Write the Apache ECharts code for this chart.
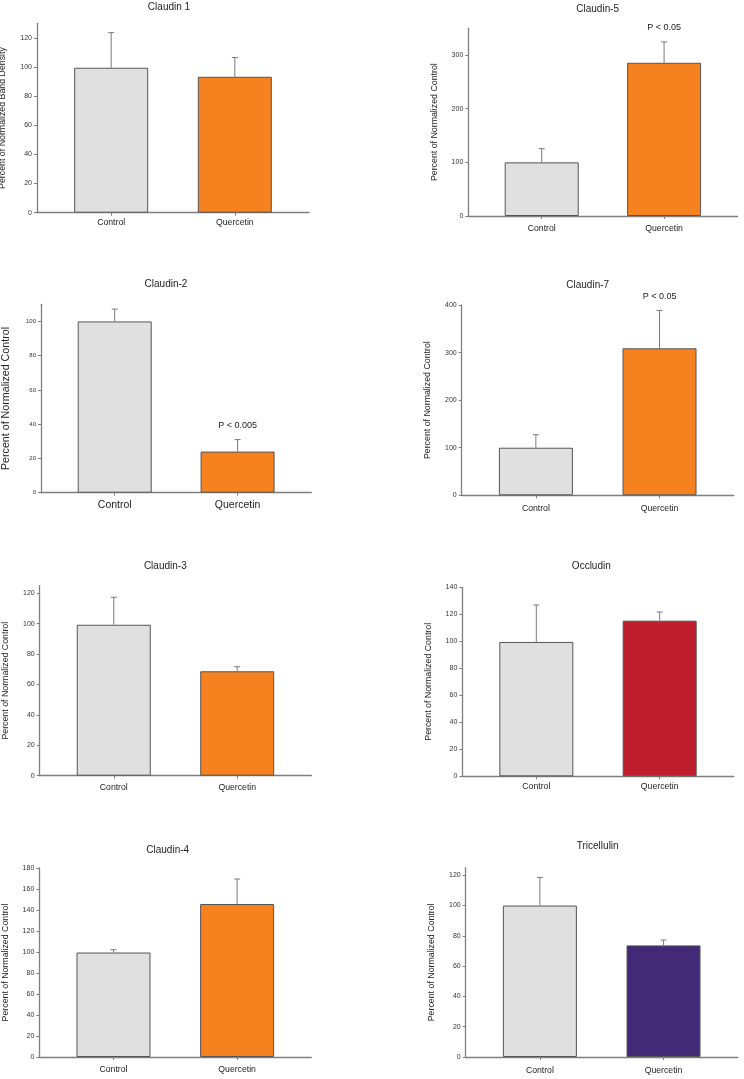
<!DOCTYPE html>
<html>
<head>
<meta charset="utf-8">
<script src="https://cdn.jsdelivr.net/npm/echarts@6/dist/echarts.min.js"></script>
<style>html,body{margin:0;padding:0;background:#fff;}#c{width:744px;height:1079px;}</style>
</head>
<body>
<div id="c"></div>
<script>
// ---- data ----
const categories = ['Control', 'Quercetin'];
const titles = ['Claudin 1', 'Claudin-5', 'Claudin-2', 'Claudin-7', 'Claudin-3', 'Occludin', 'Claudin-4', 'Tricellulin'];
const yNames = ['Percent of Normalized Band Density', 'Percent of Normalized Control', 'Percent of Normalized Control',
  'Percent of Normalized Control', 'Percent of Normalized Control', 'Percent of Normalized Control',
  'Percent of Normalized Control', 'Percent of Normalized Control'];
const controlMeans   = [99.5, 100, 100, 100, 99.3, 99.5, 99.5, 100];
const controlErrors  = [24.1, 25.6, 7.2, 27.4, 18.1, 27.4, 2.7, 18.5];
const quercetinMeans = [93.3, 285.7, 24, 309, 68.7, 115.3, 145.7, 73.7];
const quercetinErrors= [13.2, 39, 7, 79.6, 3, 6.4, 23.8, 3.5];
const pLabels = ['', 'P < 0.05', 'P < 0.005', 'P < 0.05', '', '', '', ''];
const yMax = [130, 350, 110, 400, 125, 140, 180, 125];
const yTicks = [
  [0, 20, 40, 60, 80, 100, 120],
  [0, 100, 200, 300],
  [0, 20, 40, 60, 80, 100],
  [0, 100, 200, 300, 400],
  [0, 20, 40, 60, 80, 100, 120],
  [0, 20, 40, 60, 80, 100, 120, 140],
  [0, 20, 40, 60, 80, 100, 120, 140, 160, 180],
  [0, 20, 40, 60, 80, 100, 120]
];
const quercetinColors = ['#f5821f', '#f5821f', '#f5821f', '#f5821f', '#f5821f', '#be1e2d', '#f5821f', '#432a77'];

// ---- layout (pixels) ----
const layout = [
  {l: 37,    t: 23.3,  r: 309,   b: 212.7,  tx: 169,   ty: 7.5,  xl: 8.7,  xm: 5, yn: 8.8,  tl: 7},
  {l: 468.3, t: 28.3,  r: 737.5, b: 216,    tx: 597.7, ty: 9,    xl: 8.7,  xm: 8, yn: 8.8,  tl: 7},
  {l: 41,    t: 304.3, r: 311.3, b: 492.7,  tx: 166,   ty: 284,  xl: 10.5, xm: 7, yn: 10.7, tl: 6},
  {l: 461.7, t: 305,   r: 733.7, b: 495.3,  tx: 587.7, ty: 285,  xl: 8.7,  xm: 9, yn: 8.8,  tl: 7},
  {l: 39.7,  t: 585.7, r: 311.3, b: 775.7,  tx: 165.3, ty: 566,  xl: 8.7,  xm: 7, yn: 8.8,  tl: 7},
  {l: 462.3, t: 587.3, r: 733.7, b: 776.3,  tx: 591.3, ty: 566.7,xl: 8.7,  xm: 6, yn: 8.8,  tl: 7},
  {l: 39.3,  t: 868,   r: 311.3, b: 1057,   tx: 167.7, ty: 850,  xl: 8.7,  xm: 8, yn: 8.8,  tl: 7},
  {l: 465.7, t: 867.7, r: 737.7, b: 1057,   tx: 597.7, ty: 846,  xl: 8.7,  xm: 9, yn: 8.8,  tl: 7}
];

const FONT = '"Liberation Sans", Arial, sans-serif';
const AXIS = '#7f7f7f';
const grids = [], xAxes = [], yAxes = [], series = [], graphics = [];

layout.forEach((L, i) => {
  grids.push({left: L.l, top: L.t, width: L.r - L.l, height: L.b - L.t, containLabel: false, outerBoundsMode: 'none'});
  xAxes.push({
    type: 'value', gridIndex: i, min: 0.4, max: 2.6,
    axisLine: {show: true, onZero: false, lineStyle: {color: AXIS, width: 1.3}},
    splitLine: {show: false},
    axisTick: {show: true, customValues: [1, 2], length: 3, lineStyle: {color: AXIS}},
    axisLabel: {customValues: [1, 2], formatter: v => categories[Math.round(v) - 1], fontFamily: FONT,
      fontSize: L.xl, color: '#222', margin: L.xm}
  });
  yAxes.push({
    type: 'value', gridIndex: i, min: 0, max: yMax[i],
    name: yNames[i], nameLocation: 'middle', nameRotate: 90, nameGap: 29.5,
    nameTextStyle: {fontFamily: FONT, fontSize: L.yn, color: '#222'},
    axisLine: {show: true, lineStyle: {color: AXIS, width: 1.3}},
    splitLine: {show: false},
    axisTick: {show: true, customValues: yTicks[i], length: 3, lineStyle: {color: AXIS}},
    axisLabel: {customValues: yTicks[i], fontFamily: FONT, fontSize: L.tl, color: '#333', margin: 5}
  });
  const means = [controlMeans[i], quercetinMeans[i]];
  const errs = [controlErrors[i], quercetinErrors[i]];
  const colors = ['#e0e0e0', quercetinColors[i]];
  series.push({
    type: 'bar', xAxisIndex: i, yAxisIndex: i, barWidth: 74,
    data: means.map((m, k) => ({value: [k + 1, m], itemStyle: {color: colors[k], borderColor: '#555', borderWidth: 1}})),
    silent: true
  });
  const pl = pLabels[i];
  series.push({
    type: 'custom', xAxisIndex: i, yAxisIndex: i, silent: true, z: 5,
    data: means.map((m, k) => [k + 1, m, errs[k]]),
    renderItem: (params, api) => {
      const x = api.value(0), m = api.value(1), e = api.value(2);
      const p0 = api.coord([x, m]);
      const p1 = api.coord([x, m + e]);
      const children = [
        {type: 'line', shape: {x1: p0[0], y1: p0[1], x2: p1[0], y2: p1[1]}, style: {stroke: '#7a7a7a', lineWidth: 1}},
        {type: 'line', shape: {x1: p1[0] - 3, y1: p1[1], x2: p1[0] + 3, y2: p1[1]}, style: {stroke: '#7a7a7a', lineWidth: 1}}
      ];
      if (pl && params.dataIndex === 1) {
        children.push({type: 'text', x: p1[0], y: p1[1] - 14,
          style: {text: pl, fontFamily: FONT, fontSize: 9, fill: '#222', align: 'center', verticalAlign: 'middle'}});
      }
      return {type: 'group', children};
    }
  });
  graphics.push({type: 'text', x: L.tx, y: L.ty,
    style: {text: titles[i], fontFamily: FONT, fontSize: 10, fill: '#222', align: 'center', verticalAlign: 'middle'}});
});

const chart = echarts.init(document.getElementById('c'), null, {renderer: 'canvas'});
chart.setOption({
  animation: false,
  backgroundColor: '#fff',
  grid: grids, xAxis: xAxes, yAxis: yAxes, series: series,
  graphic: graphics
});
</script>
</body>
</html>
